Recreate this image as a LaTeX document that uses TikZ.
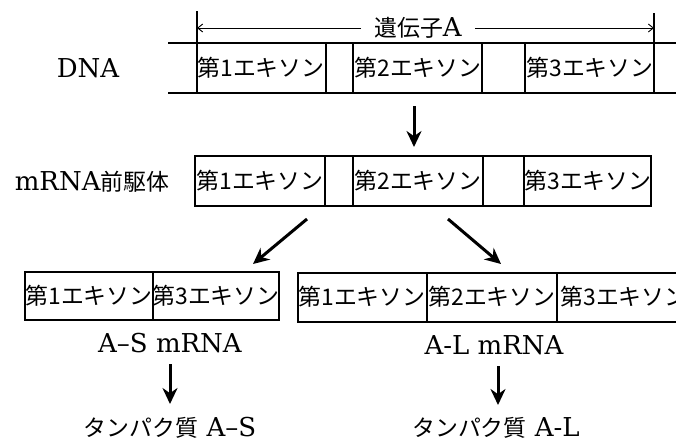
\documentclass[tikz,border=0pt]{standalone}
\usepackage{fontspec}
\setmainfont{DejaVu Serif}
\newfontfamily\cjk[Scale=0.88]{Noto Sans CJK JP}
\usetikzlibrary{arrows.meta}
\newcommand{\exon}[1]{{\cjk 第#1エキソン}}
\tikzset{
  txt/.style={font=\fontsize{26}{28}\selectfont, inner sep=0pt},
  flow/.style={line width=3pt, -{Stealth[length=16pt,width=15pt]}},
  span/.style={line width=0.9pt, -{Straight Barb[length=5pt,width=8pt]}},
  strand/.style={line width=1.2pt},
}
\begin{document}
\begin{tikzpicture}[x=1pt,y=-1pt]
\useasboundingbox (0,0) rectangle (676,445);
\clip (0,0) rectangle (676,445);
% DNA
\draw[strand] (168,43) -- (676,43);
\draw[strand] (168,93) -- (676,93);
\foreach \x in {326,353,482,525}
  \draw[strand] (\x,43) -- (\x,93);
\draw[strand] (197,11) -- (197,93);
\draw[strand] (654,13) -- (654,93);
\node[txt] (dna) at (88,68) {DNA};
\node[txt] (d1) at (261,68) {\exon{1}};
\node[txt] (d2) at (418,68) {\exon{2}};
\node[txt] (d3) at (590,68) {\exon{3}};
% gene A
\node[txt, inner xsep=13pt] (gene) at (418,28) {{\cjk 遺伝子}A};
\coordinate (gl) at (197,28);
\coordinate (gr) at (654,28);
\draw[span] (gene) -- (gl);
\draw[span] (gene) -- (gr);
% mRNA precursor
\draw[strand] (195,156) rectangle (651,206);
\foreach \x in {325,353,483,524}
  \draw[strand] (\x,156) -- (\x,206);
\node[txt] (pre) at (92,182) {mRNA{\cjk 前駆体}};
\node[txt] (p1) at (260,181) {\exon{1}};
\node[txt] (p2) at (418,181) {\exon{2}};
\node[txt] (p3) at (588,181) {\exon{3}};
% A-S mRNA
\draw[strand] (25,272) rectangle (279,320);
\draw[strand] (153,272) -- (153,320);
\node[txt] (s1) at (89,296) {\exon{1}};
\node[txt] (s3) at (216,296) {\exon{3}};
\node[txt] (smrna) at (170,343) {A--S mRNA};
\node[txt] (sprot) at (170,428) {{\cjk タンパク質} A--S};
% A-L mRNA
\draw[strand] (298,273) rectangle (690,322);
\foreach \x in {427,557}
  \draw[strand] (\x,273) -- (\x,322);
\node[txt] (l1) at (362,297) {\exon{1}};
\node[txt] (l2) at (492,297) {\exon{2}};
\node[txt] (l3) at (624,297) {\exon{3}};
\node[txt] (lmrna) at (494,345) {A-L mRNA};
\node[txt] (lprot) at (496,428) {{\cjk タンパク質} A-L};
% arrows
\coordinate (t0) at (414,106);
\coordinate (h0) at (414,147);
\coordinate (ts) at (307,219);
\coordinate (hs) at (253,264);
\coordinate (tl) at (448,219);
\coordinate (hl) at (501,264);
\coordinate (ss) at (170,364);
\coordinate (se) at (170,404);
\coordinate (ls) at (498,366);
\coordinate (le) at (498,405);
\draw[flow] (t0) -- (h0);
\draw[flow] (ts) -- (hs);
\draw[flow] (tl) -- (hl);
\draw[flow] (ss) -- (se);
\draw[flow] (ls) -- (le);
\end{tikzpicture}
\end{document}
